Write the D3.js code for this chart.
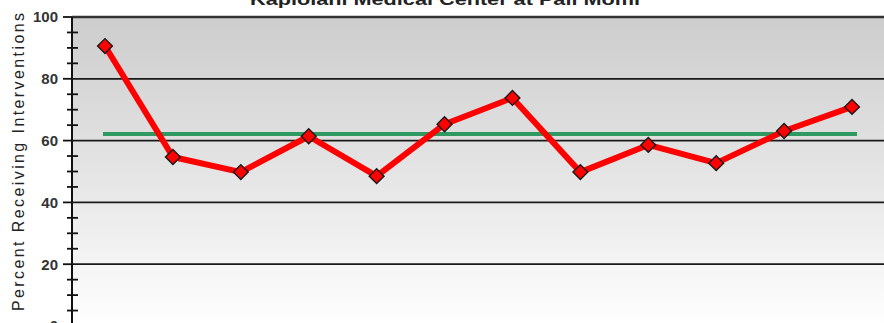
<!DOCTYPE html>
<html>
<head>
<meta charset="utf-8">
<script src="https://cdn.jsdelivr.net/npm/d3@7"></script>
<style>
  html, body { margin: 0; padding: 0; background: #fff; overflow: hidden; }
  svg { display: block; font-family: Arial, "Liberation Sans", sans-serif; }
</style>
</head>
<body>
<div id="chart"></div>
<script>
// chart data (x labels are below the visible area)
const periods = ["P1", "P2", "P3", "P4", "P5", "P6", "P7", "P8", "P9", "P10", "P11", "P12"];
const percentValues = [90.6, 54.7, 49.8, 61.4, 48.5, 65.3, 73.8, 49.8, 58.6, 52.7, 63.1, 70.9];
const averageValue = 62.1;
const yMajorTicks = [0, 20, 40, 60, 80, 100];
const yMinorTicks = [5, 10, 15, 25, 30, 35, 45, 50, 55, 65, 70, 75, 85, 90, 95];
const chartTitle = "Kapiolani Medical Center at Pali Momi";
const yTitle = "Percent Receiving Interventions";

const cfg = {
  width: 884,
  height: 323,
  plot: { left: 72, right: 884, top: 17, bottom: 326 }
};

const svg = d3.select("#chart")
  .append("svg")
  .attr("width", cfg.width)
  .attr("height", cfg.height)
  .attr("viewBox", [0, 0, cfg.width, cfg.height]);

const yScale = d3.scaleLinear([0, 100], [cfg.plot.bottom, cfg.plot.top]);
const xScale = d3.scalePoint(periods, [105, 852]);

// background gradient
const grad = svg.append("defs")
  .append("linearGradient")
  .attr("id", "bg")
  .attr("x1", 0).attr("x2", 0).attr("y1", 0).attr("y2", 1);
grad.append("stop").attr("offset", "0%").attr("stop-color", "#cdcdcd");
grad.append("stop").attr("offset", "45%").attr("stop-color", "#e2e2e2");
grad.append("stop").attr("offset", "100%").attr("stop-color", "#ffffff");

svg.append("rect")
  .attr("x", cfg.plot.left)
  .attr("y", cfg.plot.top)
  .attr("width", cfg.plot.right - cfg.plot.left)
  .attr("height", cfg.plot.bottom - cfg.plot.top)
  .attr("fill", "url(#bg)");

// gridlines
svg.append("g")
  .attr("class", "gridlines")
  .selectAll("line")
  .data(yMajorTicks.filter(d => d > 0))
  .join("line")
  .attr("x1", cfg.plot.left)
  .attr("x2", cfg.plot.right)
  .attr("y1", d => yScale(d))
  .attr("y2", d => yScale(d))
  .style("stroke", d => d === 100 ? "#333" : "#1a1a1a")
  .style("stroke-width", d => d === 100 ? 2.5 : 1.8);

// y axis with major/minor ticks
const yAxis = svg.append("g")
  .attr("class", "yAxis")
  .attr("transform", `translate(${cfg.plot.left}, 0)`);

yAxis.append("line")
  .attr("x1", 0).attr("x2", 0)
  .attr("y1", cfg.plot.top).attr("y2", cfg.height)
  .style("stroke", "#111")
  .style("stroke-width", 2);

yAxis.selectAll(".major")
  .data(yMajorTicks)
  .join("line")
  .attr("class", "major")
  .attr("x1", -9).attr("x2", 0)
  .attr("y1", d => yScale(d)).attr("y2", d => yScale(d))
  .style("stroke", "#111")
  .style("stroke-width", 1.8);

yAxis.selectAll(".minor")
  .data(yMinorTicks)
  .join("line")
  .attr("class", "minor")
  .attr("x1", -5).attr("x2", 6)
  .attr("y1", d => yScale(d)).attr("y2", d => yScale(d))
  .style("stroke", "#111")
  .style("stroke-width", 1.8);

yAxis.selectAll("text")
  .data(yMajorTicks)
  .join("text")
  .attr("x", -14)
  .attr("y", d => yScale(d))
  .attr("dy", "0.36em")
  .attr("text-anchor", "end")
  .style("font-size", "15px")
  .style("font-weight", "bold")
  .style("fill", "#333")
  .text(d => d);

// axis title
svg.append("text")
  .attr("transform", `translate(24, 162) rotate(-90)`)
  .attr("text-anchor", "middle")
  .attr("textLength", 298)
  .attr("lengthAdjust", "spacing")
  .style("font-size", "16px")
  .style("fill", "#222")
  .text(yTitle);

// chart title (mostly above the frame)
svg.append("text")
  .attr("x", 445)
  .attr("y", 5)
  .attr("text-anchor", "middle")
  .attr("textLength", 390)
  .attr("lengthAdjust", "spacingAndGlyphs")
  .style("font-size", "16px")
  .style("font-weight", "bold")
  .style("fill", "#222")
  .text(chartTitle);

// average line
svg.append("line")
  .attr("class", "average")
  .attr("x1", 103)
  .attr("x2", 857)
  .attr("y1", yScale(averageValue))
  .attr("y2", yScale(averageValue))
  .style("stroke", "#2e9a62")
  .style("stroke-width", 4);

// series line
const line = d3.line()
  .x((d, i) => xScale(periods[i]))
  .y(d => yScale(d))
  .curve(d3.curveLinear);

svg.append("path")
  .datum(percentValues)
  .attr("d", line)
  .style("fill", "none")
  .style("stroke", "#ff0000")
  .style("stroke-width", 6)
  .style("stroke-linejoin", "round");

// diamond markers
const diamond = d3.symbol().type(d3.symbolSquare).size(110);
svg.append("g")
  .attr("class", "markers")
  .selectAll("path")
  .data(percentValues)
  .join("path")
  .attr("d", diamond)
  .attr("transform", (d, i) => `translate(${xScale(periods[i])}, ${yScale(d)}) rotate(45)`)
  .style("fill", "#ff0000")
  .style("stroke", "#1a1a1a")
  .style("stroke-width", 1.4);
</script>
</body>
</html>
